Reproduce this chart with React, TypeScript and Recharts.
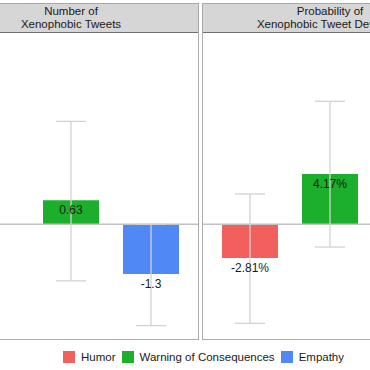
import { Bar, BarChart, Cell, ErrorBar, LabelList, ReferenceLine, XAxis, YAxis } from "recharts";

const categories = ["Humor", "Warning of Consequences", "Empathy"];
const colors = ["#F2605D", "#1BAF2C", "#5088F6"];

// left facet: number of xenophobic tweets (Humor bar lies outside the crop)
const countValues = [null, 0.63, -1.3];
const countLow = [null, -1.48, -2.65];
const countHigh = [null, 2.69, 0.0];

// right facet: probability of detection, in % (Empathy bar lies outside the crop)
const probValues = [-2.81, 4.17, null];
const probLow = [-8.25, -1.9, null];
const probHigh = [2.51, 10.22, null];

const countTitle = ["Number of", "Xenophobic Tweets"];
const probTitle = ["Probability of", "Xenophobic Tweet Detection"];

const FONT = '"Liberation Sans", Arial, sans-serif';

type Row = {
  category: string;
  value: number | null;
  err: [number, number] | null;
};

function buildRows(values: (number | null)[], low: (number | null)[], high: (number | null)[]): Row[] {
  return categories.map((category, i) => {
    const v = values[i];
    return {
      category,
      value: v,
      err: v == null ? null : [v - (low[i] as number), (high[i] as number) - v],
    };
  });
}

const makeLabel = (fmt: (v: number) => string) => (props: any) => {
  const { x, y, width, height, value } = props;
  if (value == null) return null;
  const top = Math.min(Number(y), Number(y) + Number(height));
  const bottom = Math.max(Number(y), Number(y) + Number(height));
  const ty = (value >= 0 ? top : bottom) + 10;
  return (
    <text
      x={Number(x) + Number(width) / 2}
      y={ty}
      textAnchor="middle"
      dominantBaseline="central"
      fontSize={12}
      fontFamily={FONT}
      fill="#1a1a1a"
    >
      {fmt(value)}
    </text>
  );
};

type PanelProps = {
  left: number;
  title: string[];
  rows: Row[];
  domain: [number, number];
  fmt: (v: number) => string;
};

function Panel({ left, title, rows, domain, fmt }: PanelProps) {
  return (
    <>
      <div
        style={{
          position: "absolute",
          left,
          top: 3,
          width: 256,
          height: 30,
          boxSizing: "border-box",
          background: "#d6d6d6",
          border: "1px solid #a8a8a8",
          borderBottom: "1px solid #6e6e6e",
          display: "flex",
          flexDirection: "column",
          justifyContent: "center",
          alignItems: "center",
          fontFamily: FONT,
          fontSize: 11.5,
          lineHeight: "13px",
          color: "#1a1a1a",
          whiteSpace: "nowrap",
        }}
      >
        {title.map((t) => (
          <div key={t}>{t}</div>
        ))}
      </div>
      <div style={{ position: "absolute", left, top: 33 }}>
        <BarChart width={256} height={306} data={rows} margin={{ top: 0, right: 0, bottom: 0, left: 0 }}>
          <XAxis dataKey="category" hide padding={{ left: 8, right: 8 }} />
          <YAxis hide domain={domain} allowDataOverflow />
          <ReferenceLine y={0} stroke="#c2c2c2" strokeWidth={1.5} />
          <Bar dataKey="value" barSize={56} isAnimationActive={false}>
            {rows.map((r, i) => (
              <Cell key={r.category} fill={colors[i]} />
            ))}
            <ErrorBar dataKey="err" width={15} stroke="#d2d2d2" strokeWidth={1.3} direction="y" />
            <LabelList dataKey="value" content={makeLabel(fmt)} />
          </Bar>
        </BarChart>
      </div>
      <div
        style={{
          position: "absolute",
          left,
          top: 32,
          width: 256,
          height: 308,
          boxSizing: "border-box",
          border: "1px solid #ababab",
          borderTop: "none",
          pointerEvents: "none",
        }}
      />
    </>
  );
}

export default function App() {
  const countRows = buildRows(countValues, countLow, countHigh);
  const probRows = buildRows(probValues, probLow, probHigh);
  return (
    <div
      style={{
        position: "fixed",
        left: 0,
        top: 0,
        width: 370,
        height: 370,
        overflow: "hidden",
        background: "#ffffff",
      }}
    >
      <Panel left={-57} title={countTitle} rows={countRows} domain={[-3, 5]} fmt={(v) => String(v)} />
      <Panel left={202} title={probTitle} rows={probRows} domain={[-9.55, 15.9]} fmt={(v) => `${v.toFixed(2)}%`} />
      <div
        style={{
          position: "absolute",
          left: 63,
          top: 351,
          height: 12,
          display: "flex",
          alignItems: "center",
          fontFamily: FONT,
          fontSize: 11.5,
          color: "#1a1a1a",
          whiteSpace: "nowrap",
        }}
      >
        {categories.map((c, i) => (
          <div key={c} style={{ display: "flex", alignItems: "center", marginRight: 6 }}>
            <div style={{ width: 12, height: 12, background: colors[i], marginRight: 6 }} />
            <span>{c}</span>
          </div>
        ))}
      </div>
    </div>
  );
}
